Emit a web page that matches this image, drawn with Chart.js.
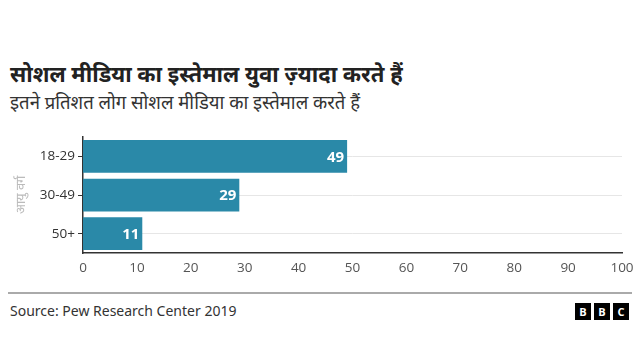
<!DOCTYPE html>
<html>
<head>
<meta charset="utf-8">
<script src="https://cdn.jsdelivr.net/npm/chart.js@4"></script>
<style>
  body { margin: 0; width: 640px; height: 360px; background: #fff; position: relative; font-family: "Noto Sans", "Open Sans", sans-serif; overflow: hidden; }
  #title { position: absolute; left: 10px; top: 58px; font-size: 22px; font-weight: bold; color: #222; white-space: nowrap; }
  #subtitle { position: absolute; left: 10px; top: 89px; font-size: 18.5px; color: #333; white-space: nowrap; }
  #wrap { position: absolute; left: 0; top: 126px; width: 640px; height: 154px; }
  #rule { position: absolute; left: 8px; right: 8px; top: 292px; height: 2px; background: #aaa; }
  #source { position: absolute; left: 10px; top: 301px; font-size: 14px; color: #333; }
  #bbc { position: absolute; left: 575px; top: 303px; display: flex; gap: 3px; }
  #bbc span { width: 16px; height: 17px; background: #000; color: #fff; font: bold 11px "Open Sans", sans-serif; display: flex; align-items: center; justify-content: center; }
</style>
</head>
<body>
<div id="title">सोशल मीडिया का इस्तेमाल युवा ज़्यादा करते हैं</div>
<div id="subtitle">इतने प्रतिशत लोग सोशल मीडिया का इस्तेमाल करते हैं</div>
<div id="wrap"><canvas id="c"></canvas></div>
<div id="rule"></div>
<div id="source">Source: Pew Research Center 2019</div>
<div id="bbc"><span>B</span><span>B</span><span>C</span></div>
<script>
const categories = ['18-29', '30-49', '50+'];
const values = [49, 29, 11];
const xTicks = [0, 10, 20, 30, 40, 50, 60, 70, 80, 90, 100];
const yTitle = 'आयु वर्ग';

const barLabels = {
  id: 'barLabels',
  afterDatasetsDraw(chart) {
    const ctx = chart.ctx;
    const meta = chart.getDatasetMeta(0);
    ctx.save();
    ctx.fillStyle = '#fff';
    ctx.font = 'bold 15px "Open Sans", sans-serif';
    ctx.textAlign = 'right';
    ctx.textBaseline = 'middle';
    meta.data.forEach((bar, i) => {
      ctx.fillText(values[i], bar.x - 3, bar.y + 1);
    });
    ctx.restore();
  }
};

new Chart(document.getElementById('c'), {
  type: 'bar',
  data: {
    labels: categories,
    datasets: [{
      data: values,
      backgroundColor: '#2a89a8',
      barPercentage: 0.85,
      categoryPercentage: 1
    }]
  },
  options: {
    indexAxis: 'y',
    responsive: true,
    maintainAspectRatio: false,
    animation: false,
    layout: { padding: { left: 14, right: 18, top: 2, bottom: 0 } },
    plugins: { legend: { display: false }, tooltip: { enabled: false } },
    scales: {
      x: {
        min: 0, max: 100,
        afterBuildTicks(scale) { scale.ticks = xTicks.map(v => ({ value: v })); },
        grid: { display: false, drawTicks: true, tickLength: 5, tickColor: '#333' },
        border: { color: '#333', width: 1.5 },
        ticks: { color: '#555', font: { size: 13.5, family: '"Open Sans", sans-serif' }, padding: 2, maxRotation: 0 },
        afterFit(scale) { scale.height = 27; }
      },
      y: {
        grid: { offset: false, color: '#e6e6e6', tickColor: '#333', tickLength: 5 },
        border: { color: '#333', width: 1.5 },
        ticks: { color: '#333', font: { size: 13.5, family: '"Open Sans", sans-serif' }, padding: 3 },
        title: { display: true, text: yTitle, color: '#bbb', font: { size: 13 }, padding: 0 },
        afterFit(scale) { scale.width = 69; }
      }
    }
  },
  plugins: [barLabels]
});
</script>
</body>
</html>
